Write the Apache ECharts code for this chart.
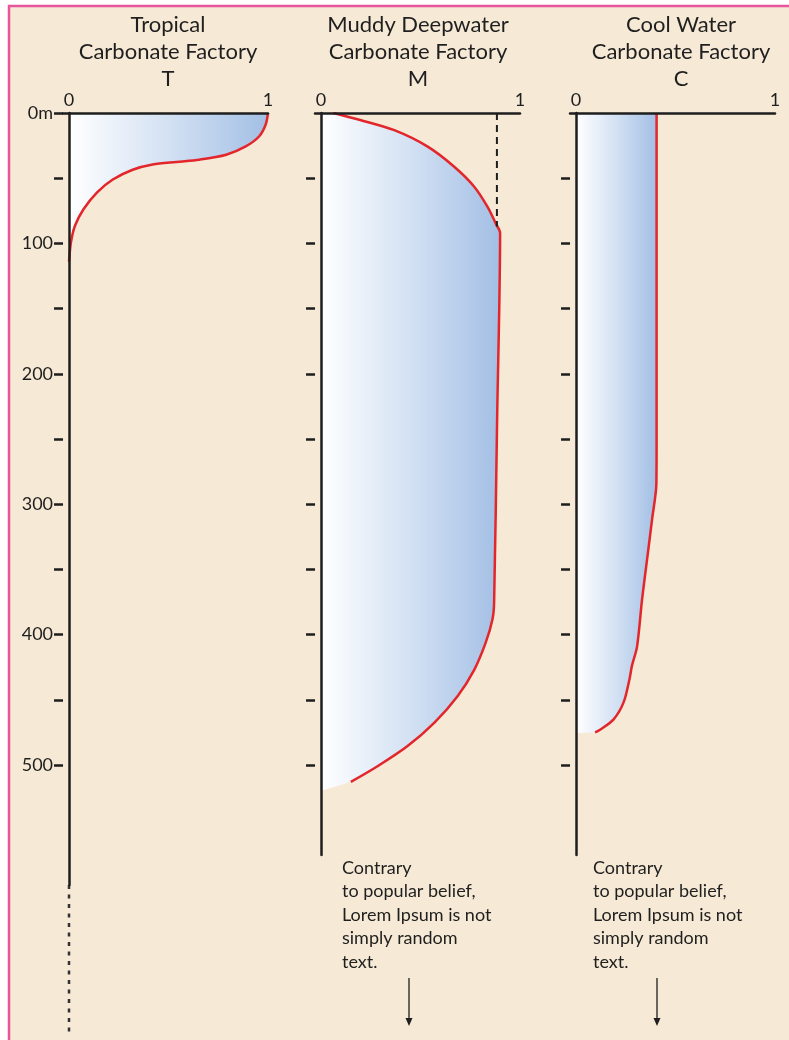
<!DOCTYPE html>
<html><head><meta charset="utf-8">
<script src="https://cdn.jsdelivr.net/npm/echarts@6/dist/echarts.min.js"></script>
<style>html,body{margin:0;padding:0;background:#fff}#chart{width:789px;height:1040px}</style>
</head><body><div id="chart"></div>
<script>
// ---------- data ----------
const panelTitles = ['Tropical\nCarbonate Factory\nT', 'Muddy Deepwater\nCarbonate Factory\nM', 'Cool Water\nCarbonate Factory\nC'];
const xTickValues = [0, 1];
const depthTickValues = [0, 50, 100, 150, 200, 250, 300, 350, 400, 450, 500];
const depthLabelValues = [0, 100, 200, 300, 400, 500];
const depthUnit = 'm';

const tropicalValue = [1.0, 0.988, 0.955, 0.888, 0.79, 0.655, 0.54, 0.42, 0.32, 0.22, 0.14, 0.072, 0.03, 0.01, 0];
const tropicalDepth = [0, 9, 18, 25.6, 32, 35.8, 37.5, 39.5, 43.5, 51, 61, 74, 86.5, 99, 114];
const tropicalDottedDepth = [592, 707];

const muddyValue = [0.062, 0.197, 0.365, 0.534, 0.668, 0.77, 0.837, 0.879, 0.9, 0.885, 0.87, 0.862, 0.828, 0.77, 0.687, 0.57, 0.435, 0.284, 0.15];
const muddyDepth = [0, 5.4, 13, 25.6, 41, 56.5, 72, 85, 92, 235, 375, 388, 406, 427, 447, 467.5, 485.5, 501, 513];
const muddyFillEndDepth = 520;
const muddyGuideValue = 0.884;
const muddyGuideDepth = [0, 87];

const coolValue = [0.405, 0.405, 0.404, 0.382, 0.357, 0.332, 0.307, 0.281, 0.269, 0.239, 0.189, 0.121, 0.096];
const coolDepth = [0, 250, 284, 312, 342.5, 373, 409, 424, 434, 452, 465, 473, 475];
const coolFillEndDepth = 475.5;

const noteLines = ['Contrary', 'to popular belief,', 'Lorem Ipsum is not', 'simply random', 'text.'];

// ---------- layout ----------
const PX_PER_M = 1.304, TOP = 113, UNIT_W = 199, X_MIN = -0.03;
const panelX0 = [69, 321, 576];
const depthMax = [592, 569, 569];
const titleCenters = [168, 418, 681];
const noteX = [342, 593];
const arrowX = [409, 657];
const INK = '#1e1e1e', TEXT = '#1f1f1f', RED = '#e2262b', FONT = 'Lato';

const zip = (xs, ys) => xs.map((x, i) => [x, ys[i]]);
const profiles = [
  { line: zip(tropicalValue, tropicalDepth), fill: [[0, 0]].concat(zip(tropicalValue, tropicalDepth)) },
  { line: zip(muddyValue, muddyDepth), fill: [[0, 0]].concat(zip(muddyValue, muddyDepth), [[0, muddyFillEndDepth]]) },
  { line: zip(coolValue, coolDepth), fill: [[0, 0]].concat(zip(coolValue, coolDepth), [[0, coolFillEndDepth]]) }
];

const chart = echarts.init(document.getElementById('chart'));
const grid = [], xAxis = [], yAxis = [], series = [];
for (let i = 0; i < 3; i++) {
  grid.push({ left: panelX0[i] + X_MIN * UNIT_W, top: TOP, width: (1 - X_MIN) * UNIT_W, height: depthMax[i] * PX_PER_M });
  xAxis.push({
    type: 'value', gridIndex: i, min: X_MIN, max: 1, position: 'top', z: 5,
    axisLine: { show: true, onZero: false, lineStyle: { color: INK, width: 2.5 } },
    axisTick: { show: false }, splitLine: { show: false },
    axisLabel: { customValues: xTickValues, fontSize: 18, fontFamily: FONT, color: TEXT, margin: 4 }
  });
  yAxis.push({
    type: 'value', gridIndex: i, inverse: true, min: 0, max: depthMax[i], position: 'left', z: 5,
    axisLine: { show: true, onZero: true, lineStyle: { color: INK, width: 2.5 } },
    axisTick: { show: false }, axisLabel: { show: false }, splitLine: { show: false }
  });
  yAxis.push({
    type: 'value', gridIndex: i, inverse: true, min: 0, max: depthMax[i], position: 'left', z: 5,
    axisLine: { show: false, onZero: false },
    axisTick: { show: true, customValues: i === 0 ? depthTickValues : depthTickValues.slice(1), length: 9, lineStyle: { color: INK, width: 2.5 } },
    axisLabel: { show: i === 0, customValues: depthLabelValues, margin: 10, fontSize: 18, fontFamily: FONT, color: TEXT,
      formatter: v => (v === 0 ? '0' + depthUnit : String(v)) },
    splitLine: { show: false }
  });
  const fillPts = profiles[i].fill;
  series.push({
    type: 'custom', xAxisIndex: i, yAxisIndex: 2 * i, z: 1, silent: true, data: [[0, 0]],
    renderItem: (params, api) => ({
      type: 'polygon',
      shape: { points: fillPts.map(p => api.coord(p)) },
      style: { fill: new echarts.graphic.LinearGradient(0, 0, 1, 0, [
        { offset: 0, color: '#ffffff' }, { offset: 0.5, color: '#d3e1f3' }, { offset: 1, color: '#a3bfe5' }]) }
    })
  });
  series.push({
    type: 'line', xAxisIndex: i, yAxisIndex: 2 * i, z: 3, data: profiles[i].line,
    showSymbol: false, smooth: 0.3, lineStyle: { color: RED, width: 2.5 }
  });
}
series.push({
  type: 'line', xAxisIndex: 1, yAxisIndex: 2, z: 4, showSymbol: false,
  data: muddyGuideDepth.map(d => [muddyGuideValue, d]),
  lineStyle: { color: INK, width: 2, type: [7, 5] }
});
series.push({
  type: 'line', xAxisIndex: 0, yAxisIndex: 0, z: 4, showSymbol: false, clip: false,
  data: tropicalDottedDepth.map(d => [0, d]),
  lineStyle: { color: '#333', width: 2.5, type: [4, 5.5] }
});

const graphic = [
  { type: 'rect', z: -100, shape: { x: 9, y: 6, width: 800, height: 1100 },
    style: { fill: '#f6e9d5', stroke: '#e8559b', lineWidth: 2.5 } }
];
panelTitles.forEach((t, i) => graphic.push({
  type: 'text', x: titleCenters[i], y: 11,
  style: { text: t, fontSize: 22, fontFamily: FONT, fill: TEXT, align: 'center', verticalAlign: 'top', lineHeight: 27 }
}));
noteX.forEach((x, i) => {
  graphic.push({ type: 'text', x: x, y: 856,
    style: { text: noteLines.join('\n'), fontSize: 18, fontFamily: FONT, fill: TEXT, align: 'left', verticalAlign: 'top', lineHeight: 23.5 } });
  graphic.push({ type: 'line', shape: { x1: arrowX[i], y1: 978, x2: arrowX[i], y2: 1019 }, style: { stroke: INK, lineWidth: 1.3 } });
  graphic.push({ type: 'polygon', shape: { points: [[arrowX[i] - 3.5, 1018], [arrowX[i] + 3.5, 1018], [arrowX[i], 1026]] }, style: { fill: INK } });
});

chart.setOption({ animation: false, backgroundColor: '#ffffff', grid, xAxis, yAxis, series, graphic });
</script></body></html>
